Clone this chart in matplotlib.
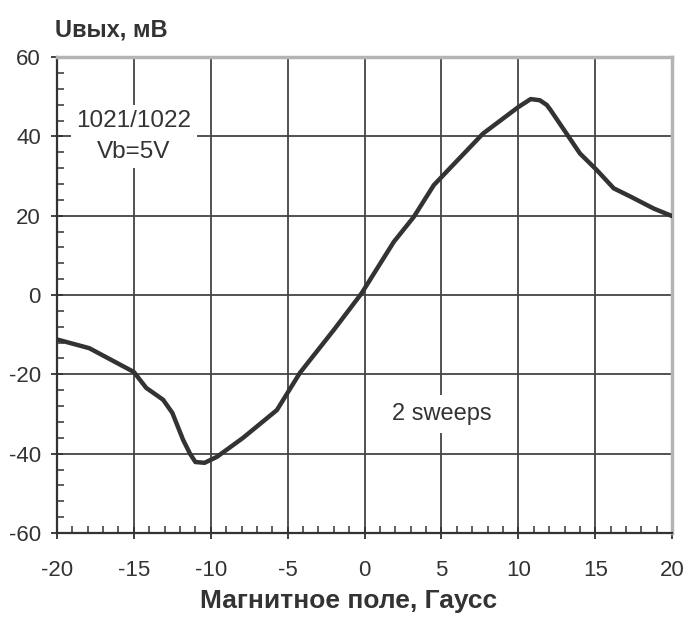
import numpy as np
import matplotlib
matplotlib.use("Agg")
import matplotlib.pyplot as plt
from matplotlib.ticker import MultipleLocator

# (field in Gauss, output in mV)
field = [-20, -17.9, -15.0, -14.2, -13.1, -12.5, -11.8, -11.35, -11.0, -10.4,
         -9.6, -7.9, -5.7, -4.2, -2.0, -0.2, 1.9, 3.2, 4.5, 7.7, 10.0, 10.8,
         11.4, 11.85, 12.1, 13.2, 14.0, 15.1, 16.2, 17.3, 18.8, 20.0]
u_out = [-11.2, -13.4, -19.4, -23.4, -26.4, -29.7, -36.5, -40.0, -42.1, -42.3,
         -40.8, -36.0, -29.0, -19.6, -8.8, 0.4, 13.4, 19.7, 27.7, 40.7, 47.4,
         49.4, 49.1, 47.9, 46.6, 40.3, 35.7, 31.5, 26.9, 24.8, 21.8, 19.9]

x_ticks = [-20, -15, -10, -5, 0, 5, 10, 15, 20]
y_ticks = [-60, -40, -20, 0, 20, 40, 60]

plt.rcParams['font.family'] = ['Liberation Sans', 'DejaVu Sans']
plt.rcParams['axes.unicode_minus'] = False

fig = plt.figure(figsize=(6.88, 6.2), dpi=100)
ax = fig.add_axes([0.0828, 0.1403, 0.8942, 0.7677])

ax.plot(field, u_out, color='#333333', lw=3.2, solid_capstyle='round',
        solid_joinstyle='round', zorder=4)

ax.set_xlim(-20, 20)
ax.set_ylim(-60, 60)
ax.set_xticks(x_ticks)
ax.set_yticks(y_ticks)
ax.xaxis.set_minor_locator(MultipleLocator(1))
ax.yaxis.set_minor_locator(MultipleLocator(4))
ax.grid(True, which='major', color='#444444', lw=1.3, zorder=1)
ax.set_axisbelow(True)

ax.tick_params(which='major', direction='inout', length=9, width=1.3,
               color='#333333', labelsize=16, labelcolor='#333333')
ax.tick_params(axis='x', which='major', pad=15)
ax.tick_params(axis='y', which='major', pad=7)
ax.tick_params(which='minor', direction='in', length=5, width=1.1,
               color='#333333')
ax.tick_params(top=False, right=False, which='both')

for s in ['left', 'bottom']:
    ax.spines[s].set_color('#333333')
    ax.spines[s].set_linewidth(1.6)
for s in ['top', 'right']:
    ax.spines[s].set_color('#b4b4b4')
    ax.spines[s].set_linewidth(2.5)

ax.text(-15, 40, '1021/1022\nVb=5V', ha='center', va='center', fontsize=17.5,
        color='#333333', linespacing=1.5, zorder=3,
        bbox=dict(facecolor='white', edgecolor='none', pad=4))
ax.text(5, -30, '2 sweeps', ha='center', va='center', fontsize=17,
        color='#333333', zorder=3,
        bbox=dict(facecolor='white', edgecolor='none', pad=6))

fig.text(55 / 688, 1 - 30 / 620, 'Uвых, мВ', ha='left', va='center',
         fontsize=17, fontweight='bold', color='#333333')
fig.text(349 / 688, 1 - 601 / 620, 'Магнитное поле, Гаусс', ha='center',
         va='center', fontsize=19, fontweight='bold', color='#333333')

fig.savefig('out.png', dpi=100, facecolor='white')
